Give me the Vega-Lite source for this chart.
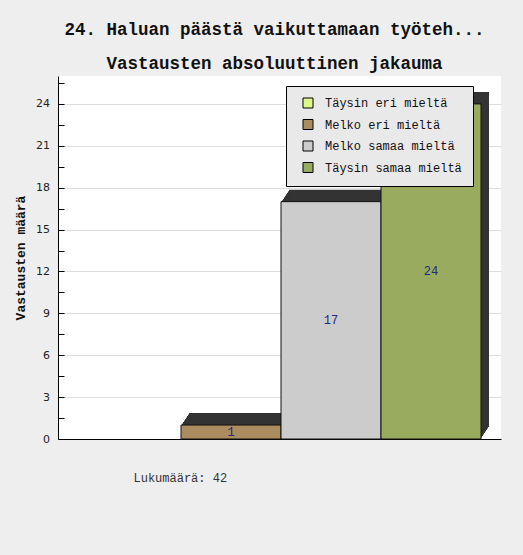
{
  "$schema": "https://vega.github.io/schema/vega-lite/v6.json",
  "width": 443,
  "height": 363,
  "autosize": "none",
  "padding": {"left": 58, "top": 76, "right": 22, "bottom": 116},
  "background": "#eeeeee",
  "view": {"fill": "#ffffff", "stroke": null},
  "title": {
    "text": "24. Haluan päästä vaikuttamaan työteh...",
    "subtitle": "Vastausten absoluuttinen jakauma",
    "font": "Liberation Mono",
    "fontSize": 17.5,
    "fontWeight": "bold",
    "color": "#111111",
    "subtitleFont": "Liberation Mono",
    "subtitleFontSize": 17.5,
    "subtitleFontWeight": "bold",
    "subtitleColor": "#111111",
    "subtitlePadding": 16,
    "anchor": "middle",
    "dx": -5,
    "offset": 4
  },
  "data": {
    "values": [
      {"vastaus": "Täysin eri mieltä", "lukumaara": 0},
      {"vastaus": "Melko eri mieltä", "lukumaara": 1},
      {"vastaus": "Melko samaa mieltä", "lukumaara": 17},
      {"vastaus": "Täysin samaa mieltä", "lukumaara": 24}
    ]
  },
  "config": {
    "legend": {
      "orient": "none",
      "legendX": 228,
      "legendY": 10,
      "fillColor": "#e9e9e9",
      "strokeColor": "#000000",
      "padding": 11,
      "rowPadding": 7.5,
      "symbolType": "square",
      "symbolSize": 100,
      "symbolStrokeColor": "#000000",
      "symbolStrokeWidth": 1,
      "symbolOpacity": 1,
      "symbolOffset": 5,
      "labelFont": "Liberation Mono",
      "labelFontSize": 12,
      "labelColor": "#111111",
      "labelOffset": 11,
      "labelLimit": 300
    }
  },
  "layer": [
    {
      "transform": [{"filter": "datum.lukumaara > 0"}],
      "mark": {"type": "bar", "color": "#333333", "xOffset": 1, "yOffset": -1.5},
      "encoding": {
        "x": {"field": "vastaus", "type": "nominal", "sort": ["Täysin eri mieltä", "Melko eri mieltä", "Melko samaa mieltä", "Täysin samaa mieltä"], "scale": {"domain": ["Täysin eri mieltä", "Melko eri mieltä", "Melko samaa mieltä", "Täysin samaa mieltä"], "paddingInner": 0, "paddingOuter": 0.215, "align": 0.535}},
        "y": {"field": "lukumaara", "type": "quantitative", "scale": {"domain": [0, 26], "nice": false}, "axis": null}
      }
    },
    {
      "transform": [{"filter": "datum.lukumaara > 0"}],
      "mark": {"type": "bar", "color": "#333333", "xOffset": 2, "yOffset": -3},
      "encoding": {
        "x": {"field": "vastaus", "type": "nominal", "sort": ["Täysin eri mieltä", "Melko eri mieltä", "Melko samaa mieltä", "Täysin samaa mieltä"]},
        "y": {"field": "lukumaara", "type": "quantitative", "scale": {"domain": [0, 26], "nice": false}, "axis": null}
      }
    },
    {
      "transform": [{"filter": "datum.lukumaara > 0"}],
      "mark": {"type": "bar", "color": "#333333", "xOffset": 3, "yOffset": -4.5},
      "encoding": {
        "x": {"field": "vastaus", "type": "nominal", "sort": ["Täysin eri mieltä", "Melko eri mieltä", "Melko samaa mieltä", "Täysin samaa mieltä"]},
        "y": {"field": "lukumaara", "type": "quantitative", "scale": {"domain": [0, 26], "nice": false}, "axis": null}
      }
    },
    {
      "transform": [{"filter": "datum.lukumaara > 0"}],
      "mark": {"type": "bar", "color": "#333333", "xOffset": 4, "yOffset": -6},
      "encoding": {
        "x": {"field": "vastaus", "type": "nominal", "sort": ["Täysin eri mieltä", "Melko eri mieltä", "Melko samaa mieltä", "Täysin samaa mieltä"]},
        "y": {"field": "lukumaara", "type": "quantitative", "scale": {"domain": [0, 26], "nice": false}, "axis": null}
      }
    },
    {
      "transform": [{"filter": "datum.lukumaara > 0"}],
      "mark": {"type": "bar", "color": "#333333", "xOffset": 5, "yOffset": -7.5},
      "encoding": {
        "x": {"field": "vastaus", "type": "nominal", "sort": ["Täysin eri mieltä", "Melko eri mieltä", "Melko samaa mieltä", "Täysin samaa mieltä"]},
        "y": {"field": "lukumaara", "type": "quantitative", "scale": {"domain": [0, 26], "nice": false}, "axis": null}
      }
    },
    {
      "transform": [{"filter": "datum.lukumaara > 0"}],
      "mark": {"type": "bar", "color": "#333333", "xOffset": 6, "yOffset": -9},
      "encoding": {
        "x": {"field": "vastaus", "type": "nominal", "sort": ["Täysin eri mieltä", "Melko eri mieltä", "Melko samaa mieltä", "Täysin samaa mieltä"]},
        "y": {"field": "lukumaara", "type": "quantitative", "scale": {"domain": [0, 26], "nice": false}, "axis": null}
      }
    },
    {
      "transform": [{"filter": "datum.lukumaara > 0"}],
      "mark": {"type": "bar", "color": "#333333", "xOffset": 7, "yOffset": -10.5},
      "encoding": {
        "x": {"field": "vastaus", "type": "nominal", "sort": ["Täysin eri mieltä", "Melko eri mieltä", "Melko samaa mieltä", "Täysin samaa mieltä"]},
        "y": {"field": "lukumaara", "type": "quantitative", "scale": {"domain": [0, 26], "nice": false}, "axis": null}
      }
    },
    {
      "transform": [{"filter": "datum.lukumaara > 0"}],
      "mark": {"type": "bar", "color": "#333333", "xOffset": 8, "yOffset": -12},
      "encoding": {
        "x": {"field": "vastaus", "type": "nominal", "sort": ["Täysin eri mieltä", "Melko eri mieltä", "Melko samaa mieltä", "Täysin samaa mieltä"]},
        "y": {"field": "lukumaara", "type": "quantitative", "scale": {"domain": [0, 26], "nice": false}, "axis": null}
      }
    },
    {
      "transform": [{"filter": "datum.lukumaara > 0"}],
      "mark": {"type": "bar", "stroke": "#111111", "strokeWidth": 1, "opacity": 1},
      "encoding": {
        "x": {
          "field": "vastaus",
          "type": "nominal",
          "sort": ["Täysin eri mieltä", "Melko eri mieltä", "Melko samaa mieltä", "Täysin samaa mieltä"],
          "axis": {
            "title": "Lukumäärä: 42",
            "labels": false,
            "ticks": false,
            "grid": false,
            "domain": true,
            "domainColor": "#000000",
            "domainWidth": 1,
            "titleX": 75,
            "titleY": 42,
            "titleAlign": "left",
            "titleAnchor": "start",
            "titleBaseline": "alphabetic",
            "titleFont": "Liberation Mono",
            "titleFontSize": 12,
            "titleFontWeight": "normal",
            "titleColor": "#333333"
          }
        },
        "y": {
          "field": "lukumaara",
          "type": "quantitative",
          "scale": {"domain": [0, 26], "nice": false},
          "axis": {
            "title": "Vastausten määrä",
            "values": [0, 1.5, 3, 4.5, 6, 7.5, 9, 10.5, 12, 13.5, 15, 16.5, 18, 19.5, 21, 22.5, 24, 25.5],
            "labelExpr": "datum.value % 3 === 0 ? format(datum.value, 'd') : ''",
            "grid": true,
            "gridColor": "#dddddd",
            "gridOpacity": {"condition": {"test": "datum.value % 3 !== 0", "value": 0}, "value": 1},
            "tickSize": -6,
            "tickColor": "#000000",
            "domainColor": "#000000",
            "labelPadding": 14.5,
            "labelFont": "DejaVu Sans",
            "labelFontSize": 11,
            "labelColor": "#222222",
            "titleFont": "Liberation Mono",
            "titleFontSize": 13,
            "titleFontWeight": "bold",
            "titleColor": "#111111",
            "titleX": -38,
            "titleY": 181.5,
            "titleAngle": -90,
            "titleAlign": "center",
            "titleBaseline": "middle"
          }
        },
        "color": {
          "field": "vastaus",
          "type": "nominal",
          "sort": ["Täysin eri mieltä", "Melko eri mieltä", "Melko samaa mieltä", "Täysin samaa mieltä"],
          "scale": {
            "domain": ["Täysin eri mieltä", "Melko eri mieltä", "Melko samaa mieltä", "Täysin samaa mieltä"],
            "range": ["#dcf88a", "#aa8c5e", "#cccccc", "#99ab5f"]
          },
          "legend": {"title": null}
        }
      }
    },
    {
      "transform": [{"filter": "datum.lukumaara > 0"}],
      "mark": {"type": "text", "font": "Liberation Mono", "fontSize": 12, "color": "#262680", "baseline": "middle", "align": "center"},
      "encoding": {
        "x": {"field": "vastaus", "type": "nominal", "sort": ["Täysin eri mieltä", "Melko eri mieltä", "Melko samaa mieltä", "Täysin samaa mieltä"]},
        "y": {"field": "lukumaara", "type": "quantitative", "scale": {"domain": [0, 52], "nice": false}, "axis": null},
        "text": {"field": "lukumaara", "type": "quantitative"}
      }
    }
  ],
  "resolve": {"scale": {"y": "independent"}}
}
